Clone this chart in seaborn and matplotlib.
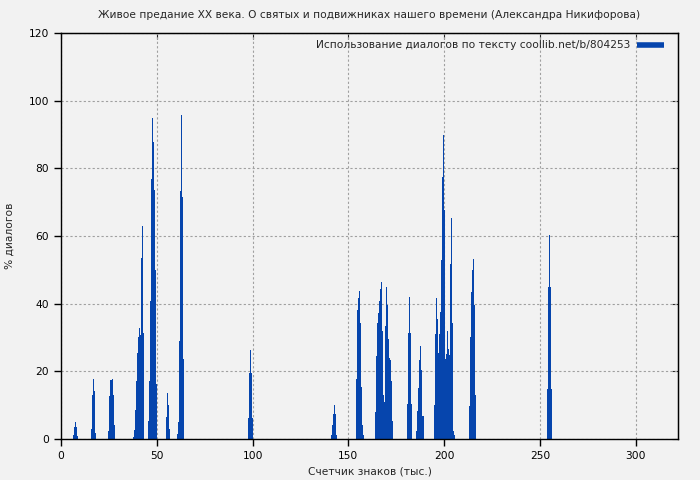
import matplotlib
matplotlib.use("Agg")
import matplotlib.pyplot as plt
import seaborn as sns
import numpy as np
import pandas as pd

# Dialogue share per 0.5k-char step, grouped into clusters (start in thousand chars)
cluster_starts = [6.5, 15.5, 24.5, 37.5, 45.5, 55.0, 60.5, 97.5, 141.0,
                  154.0, 164.0, 180.5, 185.5, 194.5, 213.0, 253.5]
cluster_values = [
    [1.2, 3.5, 5.0, 3.5, 0.9],
    [3.0, 13.0, 17.7, 14.2, 7.5, 1.8],
    [2.5, 12.7, 17.4, 17.5, 17.8, 13.0, 4.1],
    [0.6, 2.7, 8.6, 17.0, 25.5, 30.1, 32.7, 30.7, 34.6, 53.5, 63.0, 31.3],
    [5.3, 17.0, 40.8, 76.8, 94.9, 87.8, 73.6, 50.0, 16.3],
    [6.5, 13.6, 10.0, 3.0],
    [1.5, 5.0, 29.0, 73.3, 95.8, 71.5, 23.6],
    [6.2, 19.5, 26.3, 19.5, 6.2],
    [1.2, 4.1, 7.4, 10.1, 7.4, 1.2],
    [17.7, 38.1, 41.7, 43.8, 34.3, 15.4, 4.1, 1.2],
    [8.0, 24.5, 34.3, 37.2, 40.8, 44.3, 46.4, 31.9, 13.0, 10.9, 33.4, 44.9,
     39.6, 29.6, 23.9, 23.4, 17.1, 5.3, 5.3],
    [10.3, 31.3, 42.0, 31.3, 10.3],
    [2.4, 8.3, 15.1, 23.4, 27.5, 20.4, 6.8, 6.8],
    [10.1, 31.0, 41.7, 35.5, 23.6, 25.4, 31.0, 37.5, 52.9, 77.4, 89.9, 67.7,
     23.6, 25.0, 31.9, 26.6, 24.8, 51.7, 65.3, 34.3, 2.4, 1.1],
    [9.8, 30.1, 43.4, 50.0, 53.2, 39.6, 13.0],
    [14.8, 44.9, 60.3, 44.9, 14.8],
]
step = 0.5

title = "Живое предание XX века. О святых и подвижниках нашего времени (Александра Никифорова)"
legend_label = "Использование диалогов по тексту coollib.net/b/804253"
x_label = "Счетчик знаков (тыс.)"
y_label = "% диалогов"
x_ticks = [0, 50, 100, 150, 200, 250, 300]
y_ticks = [0, 20, 40, 60, 80, 100, 120]

rows = []
for start, vals in zip(cluster_starts, cluster_values):
    for i, v in enumerate(vals):
        rows.append({"pos": start + step * i + step / 2, "pct": v})
df = pd.DataFrame(rows)

sns.set_style("white")
plt.rcParams["font.family"] = ["DejaVu Sans"]
bg = "#f2f2f2"
bar_color = "#0645ad"
fs = 7.7

fig = plt.figure(figsize=(7, 4.8), dpi=100, facecolor=bg)
ax = fig.add_axes([61 / 700, 41 / 480, 617 / 700, 406 / 480])
ax.set_facecolor(bg)

sns.histplot(data=df, x="pos", weights="pct", binwidth=step, binrange=(0, 322),
             color=bar_color, alpha=1, linewidth=0, element="bars",
             label=legend_label, ax=ax)

ax.set_xlim(0, 322)
ax.set_ylim(0, 120)
ax.set_xticks(x_ticks)
ax.set_yticks(y_ticks)
ax.set_axisbelow(True)
ax.grid(True, color="#a0a0a0", linestyle=(0, (2, 2)), linewidth=0.8)
for s in ax.spines.values():
    s.set_color("black")
    s.set_linewidth(1)
ax.tick_params(axis="both", direction="out", length=5, width=1, labelsize=fs,
               colors="black", bottom=True, left=True)

top = ax.secondary_xaxis("top")
top.set_xticks(x_ticks)
top.tick_params(direction="in", length=4, labeltop=False)
right = ax.secondary_yaxis("right")
right.set_yticks(y_ticks)
right.tick_params(direction="in", length=4, labelright=False)

ax.set_xlabel(x_label, fontsize=fs, labelpad=4)
ax.set_ylabel(y_label, fontsize=fs, labelpad=10)
ax.set_title(title, fontsize=fs, pad=11)

handle = plt.Line2D([], [], color=bar_color, linewidth=4, solid_capstyle="butt")
ax.legend([handle], [legend_label], loc="upper right", frameon=False,
          markerfirst=False, fontsize=fs, handlelength=2.6, handletextpad=0.6,
          borderaxespad=0.3, bbox_to_anchor=(0.99, 1.0))

fig.savefig("out.png", dpi=100, facecolor=bg)
